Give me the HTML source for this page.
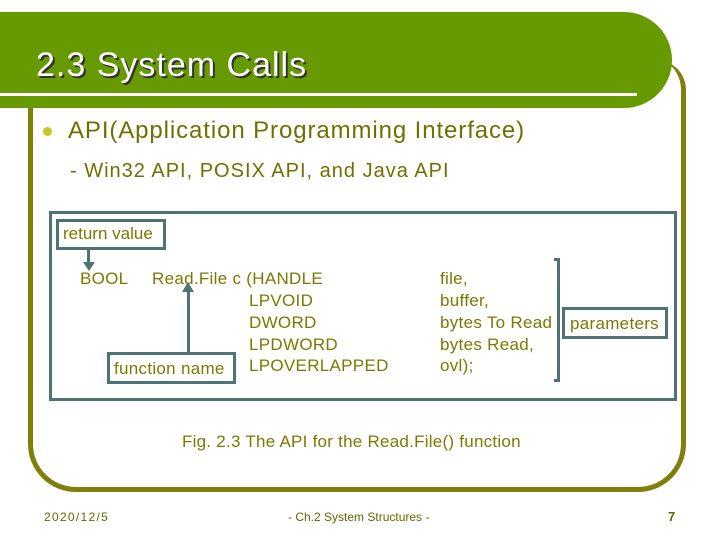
<!DOCTYPE html>
<html><head><style>
body{margin:0;width:720px;height:540px;background:#fff;position:relative;overflow:hidden;font-family:"Liberation Sans",sans-serif;}
.a{position:absolute;white-space:nowrap;}
.t{color:#7a7a00;font-size:17px;letter-spacing:0.3px;}
.bx{position:absolute;border:3px solid #4f7272;box-sizing:border-box;}
</style></head><body>
<div class="a" style="left:28px;top:60px;width:658px;height:432px;border:5px solid #7f7f0a;border-top:none;border-radius:0 30px 48px 48px;box-sizing:border-box;"></div>
<div class="a" style="left:0;top:12px;width:672px;height:96px;background:#669a00;border-radius:0 55px 55px 0;"></div>
<div class="a" style="left:0;top:93px;width:637px;height:3px;background:#fff;"></div>
<div class="a" style="left:36px;top:46px;font-size:34px;letter-spacing:1px;color:#fff;text-shadow:2px 2px 0 #333;">2.3 System Calls</div>
<div class="a" style="left:43px;top:127px;width:9px;height:9px;border-radius:50%;background:#c8c820;"></div>
<div class="a" style="left:68px;top:117px;font-size:24px;letter-spacing:0.9px;color:#707000;">API(Application Programming Interface)</div>
<div class="a" style="left:70px;top:160px;font-size:20px;letter-spacing:1px;color:#707000;">- Win32 API, POSIX API, and Java API</div>
<div class="bx" style="left:49px;top:211px;width:628px;height:190px;"></div>
<div class="bx" style="left:56px;top:219px;width:110px;height:31px;"></div>
<div class="a t" style="left:63px;top:224px;letter-spacing:0;">return value</div>
<div class="a" style="left:87px;top:250px;width:3px;height:14px;background:#4f7272;"></div>
<div class="a" style="left:83px;top:262px;border-left:6px solid transparent;border-right:6px solid transparent;border-top:9px solid #4f7272;"></div>
<div class="a t" style="left:80px;top:269px;">BOOL</div>
<div class="a t" style="left:152px;top:269px;">Read.File c (HANDLE</div>
<div class="a t" style="left:249px;top:291px;">LPVOID</div>
<div class="a t" style="left:249px;top:313px;">DWORD</div>
<div class="a t" style="left:249px;top:335px;">LPDWORD</div>
<div class="a t" style="left:249px;top:356px;">LPOVERLAPPED</div>
<div class="a" style="left:187px;top:290px;width:3px;height:64px;background:#4f7272;"></div>
<div class="a" style="left:182px;top:282px;border-left:6px solid transparent;border-right:6px solid transparent;border-bottom:10px solid #4f7272;"></div>
<div class="bx" style="left:107px;top:352px;width:129px;height:32px;"></div>
<div class="a t" style="left:114px;top:359px;">function name</div>
<div class="a t" style="left:440px;top:269px;">file,</div>
<div class="a t" style="left:440px;top:291px;">buffer,</div>
<div class="a t" style="left:440px;top:313px;">bytes To Read</div>
<div class="a t" style="left:440px;top:335px;">bytes Read,</div>
<div class="a t" style="left:440px;top:356px;">ovl);</div>
<div class="a" style="left:554px;top:258px;width:6px;height:124px;border:3px solid #4f7272;border-left:none;box-sizing:border-box;"></div>
<div class="bx" style="left:562px;top:307px;width:106px;height:32px;"></div>
<div class="a t" style="left:570px;top:314px;">parameters</div>
<div class="a t" style="left:182px;top:432px;letter-spacing:0.25px;">Fig. 2.3 The API for the Read.File() function</div>
<div class="a" style="left:44px;top:510px;font-size:12px;letter-spacing:1.3px;color:#666600;">2020/12/5</div>
<div class="a" style="left:288px;top:510px;font-size:12px;color:#666600;">- Ch.2 System Structures -</div>
<div class="a" style="left:668px;top:509px;font-size:13px;font-weight:bold;color:#666600;">7</div>
</body></html>
